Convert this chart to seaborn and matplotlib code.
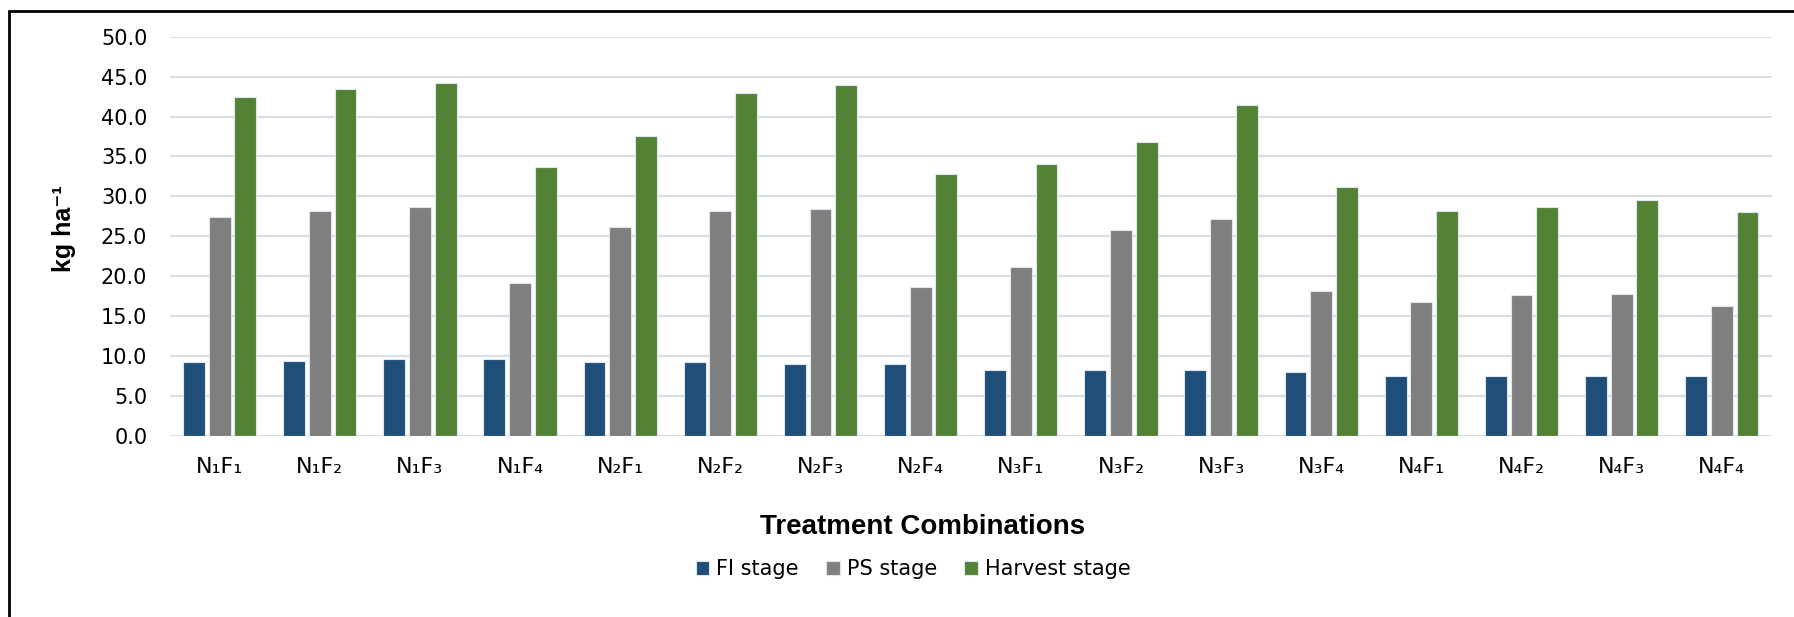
import pandas as pd
import seaborn as sns
import numpy as np
import matplotlib.pyplot as plt
from matplotlib.lines import Line2D

# data
treatments = ["N₁F₁", "N₁F₂", "N₁F₃", "N₁F₄",
              "N₂F₁", "N₂F₂", "N₂F₃", "N₂F₄",
              "N₃F₁", "N₃F₂", "N₃F₃", "N₃F₄",
              "N₄F₁", "N₄F₂", "N₄F₃", "N₄F₄"]
stages = ["FI stage", "PS stage", "Harvest stage"]
fi_stage = [9.3, 9.4, 9.6, 9.6, 9.2, 9.2, 9.0, 9.0, 8.2, 8.2, 8.2, 8.0, 7.5, 7.5, 7.5, 7.5]
ps_stage = [27.4, 28.2, 28.6, 19.2, 26.1, 28.2, 28.4, 18.6, 21.1, 25.8, 27.1, 18.1, 16.7, 17.6, 17.8, 16.3]
harvest_stage = [42.4, 43.4, 44.2, 33.7, 37.6, 43.0, 43.9, 32.8, 34.1, 36.8, 41.4, 31.2, 28.2, 28.6, 29.5, 28.0]
yticks = [0, 5, 10, 15, 20, 25, 30, 35, 40, 45, 50]

colors = ["#1F4E79", "#7F7F7F", "#548235"]

#long format table for seaborn
df = pd.DataFrame({
    "Treatment": treatments * 3,
    "Stage": np.repeat(stages, len(treatments)),
    "Value": fi_stage + ps_stage + harvest_stage,
})

sns.set_theme(style="white")
plt.rcParams["font.family"] = ["DejaVu Sans"]
plt.rcParams["text.color"] = "black"

fig = plt.figure(figsize=(17.94, 6.17), dpi=100)
ax = fig.add_axes([0.0945, 0.2938, 0.8932, 0.6467])

sns.barplot(data=df, x="Treatment", y="Value", hue="Stage", hue_order=stages,
            palette=colors, saturation=1, width=0.77, gap=0.15, errorbar=None,
            edgecolor="#DCE6F0", linewidth=0.8, ax=ax)

ax.set_ylim(0, 50)
ax.set_xlim(-0.5, len(treatments) - 0.5)
ax.set_yticks(yticks)
ax.set_yticklabels([f"{v:.1f}" for v in yticks])
ax.set_xlabel("")
ax.set_ylabel("")
ax.grid(axis="y", color="#D9DEE5", linewidth=1.5)
ax.set_axisbelow(True)
for s in ax.spines.values():
    s.set_visible(False)
ax.tick_params(axis="y", length=0, labelsize=15, pad=16, labelcolor="black")
ax.tick_params(axis="x", length=0, labelsize=16, pad=15, labelcolor="black")

#legend under the axis title
handles, labels = ax.get_legend_handles_labels()
ax.get_legend().remove()
leg = fig.legend(handles, labels, loc="center", bbox_to_anchor=(0.509, 0.078), ncol=3,
                 frameon=False, fontsize=15, handlelength=0.65, handleheight=0.65,
                 handletextpad=0.35, columnspacing=1.3)
for t in leg.get_texts():
    t.set_color("black")

fig.text(0.5145, 0.146, "Treatment Combinations", ha="center", va="center", color="black",
         fontsize=20, fontweight="bold", family=["Liberation Sans", "DejaVu Sans"])
fig.text(0.0357, 0.629, "kg ha⁻¹", ha="center", va="center", rotation=90, color="black",
         fontsize=18, fontweight="bold", family=["Liberation Sans", "DejaVu Sans"])

#outer frame (left and top only)
fig.add_artist(Line2D([0.00485, 0.00485], [0, 0.9822], transform=fig.transFigure,
                      color="black", linewidth=2))
fig.add_artist(Line2D([0.00485, 1], [0.9822, 0.9822], transform=fig.transFigure,
                      color="black", linewidth=2))

fig.savefig("out.png", dpi=100)
